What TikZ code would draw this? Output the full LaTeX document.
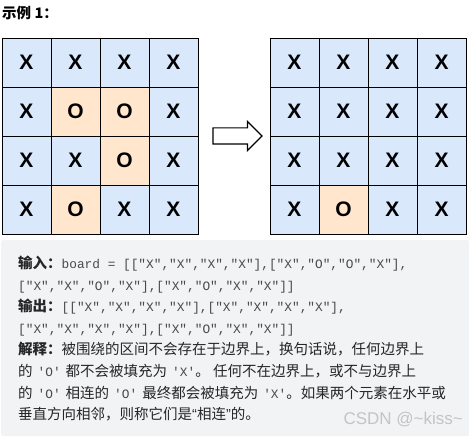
\documentclass[tikz,border=0pt]{standalone}
\usepackage{fontspec}
\setmainfont{Noto Sans CJK SC}
\setmonofont{Liberation Mono}
\newfontfamily\cellfont{Liberation Sans}
\usetikzlibrary{shapes.arrows}
\definecolor{cellBlue}{HTML}{DAE8FC}
\definecolor{cellOrange}{HTML}{FFE6CC}
\definecolor{boxGrey}{HTML}{F2F3F5}
\definecolor{codeGrey}{HTML}{4A4A4A}
\definecolor{markGrey}{HTML}{C4C4C4}
\newcommand\cd[1]{{\ttfamily\fontsize{12.8}{21.6}\selectfont\color{codeGrey}#1}}
\newcommand\cq[1]{\hspace{5pt}\cd{#1}\hspace{5pt}}
\newcommand\cqe[1]{\hspace{5pt}\cd{#1}}

\begin{document}
\begin{tikzpicture}[x=1pt,y=-1pt,
  cell/.style={draw=black,line width=0.8pt,minimum size=49pt,inner sep=0pt,
               font=\cellfont\bfseries\fontsize{21}{21}\selectfont},
  cellX/.style={fill=cellBlue},
  cellO/.style={fill=cellOrange},
  ln/.style={anchor=base west,inner sep=0pt,text=black!85,
             font=\fontsize{14.5}{21.6}\selectfont},
  turn/.style={single arrow,draw=black,line width=1.2pt,fill=white,
               minimum height=49pt,inner xsep=0pt,inner ysep=7.5pt,
               single arrow head extend=6.5pt}]
\useasboundingbox (0,0) rectangle (469,438);

\node[anchor=base west,inner sep=0pt,font=\bfseries\fontsize{14.5}{14.5}\selectfont] (title) at (2,19) {示例 1：};

% boards
\foreach \row [count=\i from 0] in {{X,X,X,X},{X,O,O,X},{X,X,O,X},{X,O,X,X}}
  \foreach \v [count=\j from 0] in \row
    \node[cell,cell\v] (in-\i-\j) at ({26.5+49*\j},{62.5+49*\i}) {\v};
\foreach \row [count=\i from 0] in {{X,X,X,X},{X,X,X,X},{X,X,X,X},{X,O,X,X}}
  \foreach \v [count=\j from 0] in \row
    \node[cell,cell\v] (out-\i-\j) at ({294.5+49*\j},{62.5+49*\i}) {\v};

\node[turn] (arr) at (233.5,136) {};

% explanation
\node[fill=boxGrey,anchor=north west,minimum width=468pt,minimum height=196pt,
      inner sep=0pt,rounded corners=2pt] (box) at (1,240) {};
\node[ln] (l1) at (18,268.5) {\textbf{输入：}\cd{board = [["X","X","X","X"],["X","O","O","X"],}};
\node[ln] (l2) at (18,290.1) {\cd{["X","X","O","X"],["X","O","X","X"]]}};
\node[ln] (l3) at (18,311.7) {\textbf{输出：}\cd{[["X","X","X","X"],["X","X","X","X"],}};
\node[ln] (l4) at (18,333.3) {\cd{["X","X","X","X"],["X","O","X","X"]]}};
\node[ln] (l5) at (18,354.9) {\textbf{解释：}被围绕的区间不会存在于边界上，换句话说，任何边界上};
\node[ln] (l6) at (18,376.5) {的\cq{'O'}都不会被填充为\cqe{'X'}。 任何不在边界上，或不与边界上};
\node[ln] (l7) at (18,398.1) {的\cq{'O'}相连的\cq{'O'}最终都会被填充为\cqe{'X'}。如果两个元素在水平或};
\node[ln] (l8) at (18,419.7) {垂直方向相邻，则称它们是{\cellfont “}相连{\cellfont ”}的。};
\node[anchor=base east,inner sep=0pt,text=markGrey,
      font=\cellfont\fontsize{17}{17}\selectfont] (mark) at (463,425) {CSDN @\textasciitilde kiss\textasciitilde};
\end{tikzpicture}
\end{document}
